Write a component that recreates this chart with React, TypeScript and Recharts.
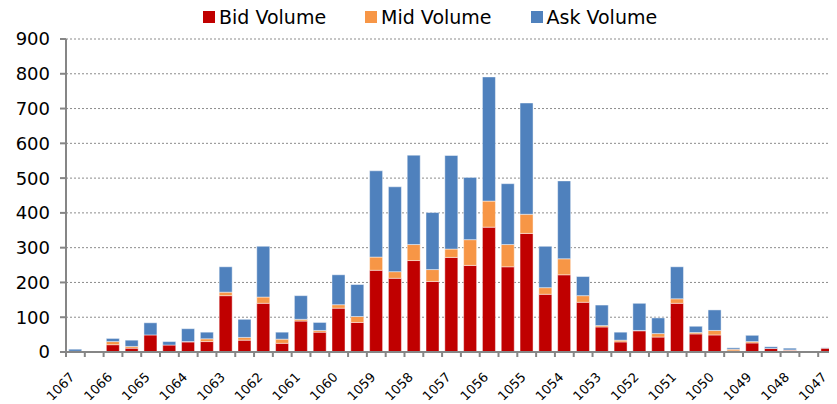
import React from "react";
import {
	BarChart,
	Bar,
	XAxis,
	YAxis,
	CartesianGrid,
	Legend,
} from "recharts";

// price levels, every half point from 1067 down to 1047
const prices = [
	"1067", "1066.5", "1066", "1065.5", "1065", "1064.5", "1064", "1063.5",
	"1063", "1062.5", "1062", "1061.5", "1061", "1060.5", "1060", "1059.5",
	"1059", "1058.5", "1058", "1057.5", "1057", "1056.5", "1056", "1055.5",
	"1055", "1054.5", "1054", "1053.5", "1053", "1052.5", "1052", "1051.5",
	"1051", "1050.5", "1050", "1049.5", "1049", "1048.5", "1048", "1047.5",
	"1047",
];

const bidVolume = [
	2, 0, 21, 11, 49, 20, 29, 30, 162, 34, 140, 25, 89, 57, 126, 85, 235, 212,
	263, 203, 272, 249, 359, 245, 341, 166, 222, 143, 72, 29, 61, 43, 140, 52,
	49, 3, 26, 10, 5, 0, 11,
];

const midVolume = [
	0, 0, 9, 5, 0, 0, 1, 8, 10, 8, 18, 12, 5, 5, 10, 17, 38, 19, 46, 34, 24, 74,
	75, 64, 55, 19, 46, 19, 4, 5, 1, 10, 13, 4, 13, 5, 4, 0, 1, 0, 0,
];

const askVolume = [
	6, 0, 9, 18, 35, 10, 37, 19, 73, 52, 146, 20, 68, 23, 86, 92, 248, 244, 257,
	164, 269, 179, 357, 175, 320, 119, 224, 55, 59, 23, 78, 45, 92, 18, 59, 4,
	18, 5, 5, 0, 1,
];

const yTicks = [0, 100, 200, 300, 400, 500, 600, 700, 800, 900];

const series = [
	{ key: "bid", name: "Bid Volume", color: "#C00000" },
	{ key: "mid", name: "Mid Volume", color: "#F79646" },
	{ key: "ask", name: "Ask Volume", color: "#4F81BD" },
];

const data = prices.map((price, i) => ({
	price,
	bid: bidVolume[i],
	mid: midVolume[i],
	ask: askVolume[i],
}));

const FONT = "'DejaVu Sans', Verdana, sans-serif";
const AXIS = "#868686";

// tick marks sit between categories, labels only on whole prices
function PriceTick(props: any) {
	const { x, y, payload, index } = props;
	const half = payload?.offset ?? 9.4;
	const i = payload?.index ?? index;
	const ly = y + 26;
	return (
		<g>
			<line x1={x - half} x2={x - half} y1={y} y2={y + 5} stroke={AXIS} strokeWidth={2} />
			{i === prices.length - 1 && (
				<line x1={x + half} x2={x + half} y1={y} y2={y + 5} stroke={AXIS} strokeWidth={2} />
			)}
			{i % 2 === 0 && (
				<text
					x={x}
					y={ly}
					textAnchor="end"
					transform={`rotate(-45 ${x} ${ly})`}
					fontFamily={FONT}
					fontSize={13}
					fill="#000"
				>
					{payload.value}
				</text>
			)}
		</g>
	);
}

function LegendRow() {
	return (
		<div
			style={{
				display: "flex",
				paddingLeft: 195,
				fontFamily: FONT,
				fontSize: 19,
				color: "#000",
			}}
		>
			{series.map((s) => (
				<div
					key={s.key}
					style={{ display: "flex", alignItems: "center", marginRight: 39 }}
				>
					<span
						style={{
							display: "inline-block",
							width: 12,
							height: 12,
							background: s.color,
							marginRight: 4,
						}}
					/>
					{s.name}
				</div>
			))}
		</div>
	);
}

export default function App() {
	return (
		<div style={{ width: 829, height: 396 }}>
			<BarChart
				width={829}
				height={396}
				data={data}
				margin={{ top: 31, right: 0, bottom: 0, left: 0 }}
				barCategoryGap="14.5%"
			>
				<CartesianGrid
					vertical={false}
					stroke="#8c8c8c"
					strokeDasharray="2 2"
				/>
				<XAxis
					dataKey="price"
					interval={0}
					height={52}
					tickSize={0}
					tickMargin={0}
					tickLine={false}
					axisLine={{ stroke: AXIS, strokeWidth: 2 }}
					tick={<PriceTick />}
				/>
				<YAxis
					width={58}
					domain={[0, 900]}
					ticks={yTicks}
					interval={0}
					tickSize={6}
					tickMargin={10}
					axisLine={{ stroke: AXIS, strokeWidth: 2 }}
					tickLine={{ stroke: AXIS, strokeWidth: 2 }}
					tick={{ fontFamily: FONT, fontSize: 18, fill: "#000" }}
				/>
				<Legend
					layout="horizontal"
					verticalAlign="middle"
					align="center"
					wrapperStyle={{ top: -2, left: 0, width: 829 }}
					content={<LegendRow />}
				/>
				{series.map((s) => (
					<Bar
						key={s.key}
						dataKey={s.key}
						name={s.name}
						stackId="vol"
						fill={s.color}
						stroke="#ffffff"
						strokeOpacity={0.45}
						strokeWidth={1}
						isAnimationActive={false}
					/>
				))}
			</BarChart>
		</div>
	);
}
